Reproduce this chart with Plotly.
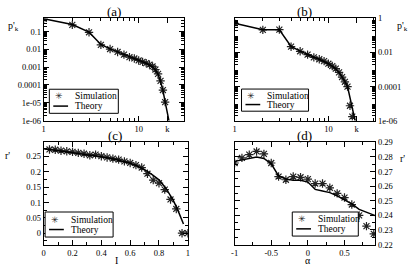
import plotly.graph_objects as go

# ---------------- data ----------------
# (a)
k_theory_a = list(range(1, 22))
p_theory_a = [0.525, 0.251, 0.0933, 0.0191, 0.0107, 0.00708, 0.00501, 0.00380, 0.00302,
              0.00240, 0.00200, 0.00166, 0.00138, 0.00105, 0.000708, 0.000398, 0.000158,
              0.0000501, 0.0000112, 0.00000316, 0.00000079]
k_sim_a = list(range(1, 20))
p_sim_a = [0.52, 0.24, 0.092, 0.018, 0.0105, 0.0072, 0.0051, 0.0037, 0.0031, 0.0024,
           0.0020, 0.0017, 0.0014, 0.0011, 0.00074, 0.00042, 0.00017, 0.000052, 0.0000108]

# (b)
k_theory_b = list(range(1, 21))
p_theory_b = [0.525, 0.219, 0.219, 0.0229, 0.0120, 0.00741, 0.00525, 0.00398, 0.00302,
              0.00219, 0.00158, 0.00110, 0.000661, 0.000372, 0.000200, 0.000100,
              0.0000229, 0.00000603, 0.00000158, 0.000000398]
k_sim_b = list(range(1, 19))
p_sim_b = [0.52, 0.215, 0.22, 0.022, 0.0118, 0.0075, 0.0052, 0.0040, 0.0031, 0.0022,
           0.0016, 0.00112, 0.00068, 0.00036, 0.00019, 0.000098, 0.0000074, 0.0000017]

# (c)
I_theory = [0.0, 0.1, 0.2, 0.3, 0.4, 0.5, 0.6, 0.65, 0.7, 0.75, 0.8, 0.85, 0.9, 0.93, 0.95, 0.97]
r_theory_c = [0.275, 0.269, 0.263, 0.256, 0.249, 0.240, 0.228, 0.219, 0.207, 0.192,
              0.174, 0.145, 0.106, 0.076, 0.055, 0.030]
I_sim = [0.04, 0.08, 0.12, 0.16, 0.20, 0.24, 0.28, 0.32, 0.36, 0.40, 0.44, 0.48, 0.52,
         0.56, 0.60, 0.64, 0.68, 0.72, 0.76, 0.80, 0.84, 0.88, 0.92, 0.96, 1.00]
r_sim_c = [0.273, 0.272, 0.269, 0.267, 0.265, 0.262, 0.259, 0.254, 0.256, 0.251, 0.247,
           0.243, 0.240, 0.234, 0.229, 0.222, 0.214, 0.194, 0.173, 0.163, 0.142, 0.110,
           0.079, 0.0, 0.0]

# (d)
alpha_theory = [-1.0, -0.9, -0.8, -0.7, -0.6, -0.5, -0.4, -0.3, -0.2, -0.1, 0.0,
                0.1, 0.2, 0.3, 0.4, 0.5, 0.6, 0.7, 0.8, 0.9, 0.92]
r_theory_d = [0.2770, 0.2780, 0.2790, 0.2799, 0.2790, 0.2753, 0.2671, 0.2649, 0.2641,
              0.2640, 0.2628, 0.2578, 0.2567, 0.2556, 0.2534, 0.2507, 0.2479, 0.2441,
              0.2419, 0.2401, 0.2398]
alpha_sim = [-1.0, -0.9, -0.8, -0.7, -0.6, -0.5, -0.4, -0.3, -0.2, -0.1, 0.0,
             0.1, 0.2, 0.3, 0.4, 0.5, 0.6, 0.7, 0.8, 0.9]
r_sim_d = [0.2759, 0.2794, 0.2816, 0.2838, 0.2821, 0.2759, 0.2666, 0.2644, 0.2666,
           0.2661, 0.2648, 0.2618, 0.2618, 0.2589, 0.2551, 0.2522, 0.2474, 0.2400,
           0.2326, 0.2273]

# tick labels
ytick_a = [1e-6, 1e-5, 1e-4, 1e-3, 1e-2, 1e-1]
ytext_a = ["1e-06", "1e-05", "0.0001", "0.001", "0.01", "0.1"]
ytick_b = [1e-6, 1e-4, 1e-2, 1]
ytext_b = ["1e-06", "0.0001", "0.01", "1"]
xtick_ab = [1, 10, 20]
xtext_ab = ["1", "10", "k"]
xtick_c = [0, 0.2, 0.4, 0.6, 0.8, 1.0]
xtext_c = ["0", "0.2", "0.4", "0.6", "0.8", "1"]
ytick_c = [0, 0.05, 0.1, 0.15, 0.2, 0.25]
ytext_c = ["0", "0.05", "0.1", "0.15", "0.2", "0.25"]
xtick_d = [-1, -0.5, 0, 0.5]
xtext_d = ["-1", "-0.5", "0", "0.5"]
ytick_d = [0.22, 0.23, 0.24, 0.25, 0.26, 0.27, 0.28, 0.29]
ytext_d = ["0.22", "0.23", "0.24", "0.25", "0.26", "0.27", "0.28", "0.29"]

legend_labels = ["Simulation", "Theory"]

# ---------------- styling ----------------
FONT = "Liberation Serif"
W, H = 415, 269
SIMCOL = "#222222"

def dom_x(a, b):
    return [a / W, b / W]

def dom_y(top, bot):
    return [1 - bot / H, 1 - top / H]

minor_log_x = [m * 10 ** e for e in range(0, 2) for m in range(2, 10)] + [20, 30]
minor_log_y = [m * 10 ** e for e in range(-7, 1) for m in range(2, 10)]

fig = go.Figure()

def add_panel(idx, xs, ys, xt, yt):
    xa = "x" if idx == 1 else f"x{idx}"
    ya = "y" if idx == 1 else f"y{idx}"
    fig.add_trace(go.Scatter(x=xs, y=ys, mode="markers", name=legend_labels[0],
                             marker=dict(symbol="asterisk-open", size=7, color=SIMCOL,
                                         line=dict(width=1.2, color=SIMCOL)),
                             xaxis=xa, yaxis=ya, showlegend=False))
    fig.add_trace(go.Scatter(x=xt, y=yt, mode="lines", name=legend_labels[1],
                             line=dict(color="black", width=1.5),
                             xaxis=xa, yaxis=ya, showlegend=False))

add_panel(1, k_sim_a, p_sim_a, k_theory_a, p_theory_a)
add_panel(2, k_sim_b, p_sim_b, k_theory_b, p_theory_b)
add_panel(3, I_sim, r_sim_c, I_theory, r_theory_c)
add_panel(4, alpha_sim, r_sim_d, alpha_theory, r_theory_d)

def axis(**kw):
    base = dict(showline=True, linecolor="black", linewidth=1, mirror="ticks",
                ticks="inside", ticklen=5, tickwidth=1, tickcolor="black",
                showgrid=False, zeroline=False,
                tickfont=dict(family=FONT, size=8.5, color="black"))
    base.update(kw)
    return base

def minor_vals(vals):
    return dict(tickvals=vals, ticks="inside", ticklen=3, tickcolor="black", showgrid=False)

def minor_dt(dt, t0=0):
    return dict(dtick=dt, tick0=t0, ticks="inside", ticklen=3, tickcolor="black", showgrid=False)

fig.update_layout(
    width=W, height=H, margin=dict(l=0, r=0, t=0, b=0),
    paper_bgcolor="white", plot_bgcolor="white",
    font=dict(family=FONT, color="black"),
    showlegend=False,
    xaxis=axis(type="log", domain=dom_x(40.3, 182.7), range=[0, 1.478], anchor="y",
               tickmode="array", tickvals=xtick_ab, ticktext=xtext_ab,
               minor=minor_vals(minor_log_x)),
    yaxis=axis(type="log", domain=dom_y(14, 120), range=[-6, -0.26], anchor="x",
               tickmode="array", tickvals=ytick_a, ticktext=ytext_a,
               minor=minor_vals(minor_log_y)),
    xaxis2=axis(type="log", domain=dom_x(234, 376.7), range=[0, 1.50], anchor="y2",
                tickmode="array", tickvals=xtick_ab, ticktext=xtext_ab,
                minor=minor_vals(minor_log_x)),
    yaxis2=axis(type="log", domain=dom_y(14, 120), range=[-6, 0], anchor="x2", side="right",
                tickmode="array", tickvals=ytick_b, ticktext=ytext_b,
                minor=minor_vals(minor_log_y)),
    xaxis3=axis(domain=dom_x(40.3, 186.5), range=[0, 1], anchor="y3",
                tickmode="array", tickvals=xtick_c, ticktext=xtext_c,
                minor=minor_dt(0.1)),
    yaxis3=axis(domain=dom_y(142.7, 248.8), range=[-0.037, 0.296], anchor="x3",
                tickmode="array", tickvals=ytick_c, ticktext=ytext_c,
                minor=minor_dt(0.025)),
    xaxis4=axis(domain=dom_x(234, 376.7), range=[-1, 0.92], anchor="y4",
                tickmode="array", tickvals=xtick_d, ticktext=xtext_d,
                minor=minor_dt(0.25, -1)),
    yaxis4=axis(domain=dom_y(142.7, 248.8), range=[0.22, 0.29], anchor="x4", side="right",
                tickmode="array", tickvals=ytick_d, ticktext=ytext_d,
                minor=minor_dt(0.005)),
)

# ---- legends (boxed, one per panel) ----
legend_boxes = [  # left, top, width, height in pixels
    (46, 87.5, 70, 25),
    (241, 87.3, 68, 23),
    (41.7, 215, 69, 26),
    (292.5, 215, 67, 25),
]
px = lambda x: x / W
py = lambda y: 1 - y / H
for (lx, ty, w, h) in legend_boxes:
    fig.add_shape(type="rect", xref="paper", yref="paper",
                  x0=px(lx), x1=px(lx + w), y0=py(ty + h), y1=py(ty),
                  line=dict(color="black", width=1), fillcolor="white", layer="above")
    r1 = ty + h * 0.30
    r2 = ty + h * 0.70
    fig.add_annotation(text="✳", x=px(lx + 10), y=py(r1), xref="paper", yref="paper",
                       showarrow=False, xanchor="center", yanchor="middle",
                       font=dict(family="DejaVu Sans", size=9, color=SIMCOL))
    fig.add_shape(type="line", xref="paper", yref="paper",
                  x0=px(lx + 4), x1=px(lx + 19), y0=py(r2), y1=py(r2),
                  line=dict(color="black", width=1.5), layer="above")
    for lab, ry in zip(legend_labels, (r1, r2)):
        fig.add_annotation(text=lab, x=px(lx + 24), y=py(ry), xref="paper", yref="paper",
                           showarrow=False, xanchor="left", yanchor="middle",
                           font=dict(family=FONT, size=9.5, color="black"))

ann = [
    dict(text="(a)", x=111.5, y=7),
    dict(text="(b)", x=305, y=7),
    dict(text="(c)", x=113, y=136),
    dict(text="(d)", x=305, y=136),
]
for a in ann:
    fig.add_annotation(text=a["text"], x=px(a["x"]), y=py(a["y"]), xref="paper", yref="paper",
                       showarrow=False, font=dict(family=FONT, size=13, color="black"),
                       xanchor="center", yanchor="middle")

labels = [
    dict(text="p'<sub>k</sub>", x=10, y=22),
    dict(text="p'<sub>k</sub>", x=404, y=22),
    dict(text="r'", x=4, y=156),
    dict(text="r'", x=404, y=159),
    dict(text="I", x=114, y=265.5),
    dict(text="α", x=308, y=265.5),
]
for a in labels:
    fig.add_annotation(text=a["text"], x=px(a["x"]), y=py(a["y"]), xref="paper", yref="paper",
                       showarrow=False, font=dict(family=FONT, size=10, color="black"),
                       xanchor="center", yanchor="middle")

fig.write_html("out.html", config={"displayModeBar": False},
               post_script="document.body.style.margin='0';document.body.style.overflow='hidden';")
